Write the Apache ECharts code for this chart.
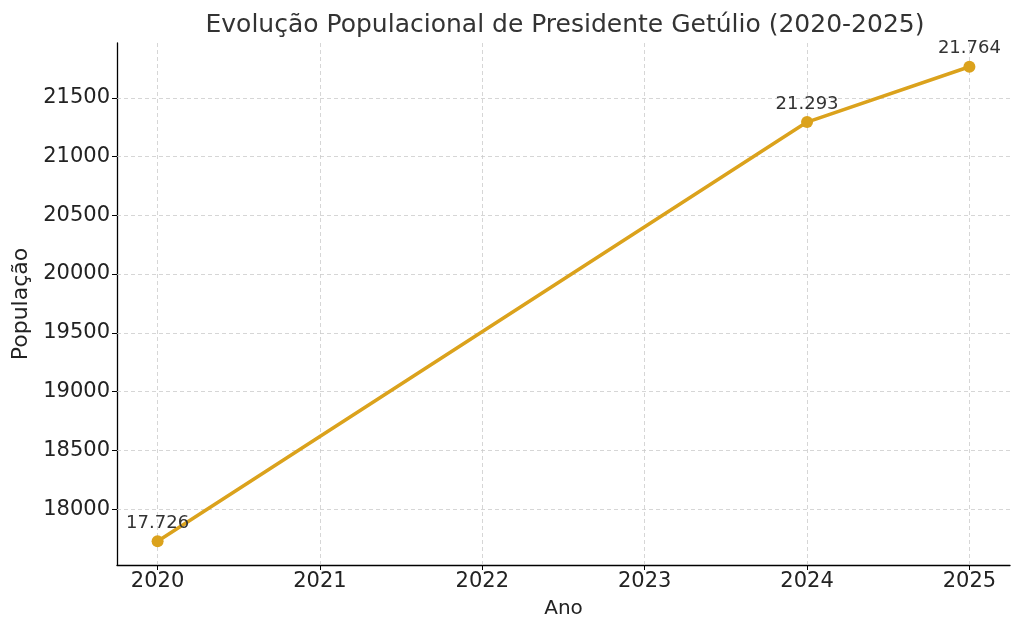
<!DOCTYPE html>
<html>
<head>
<meta charset="utf-8">
<script src="https://cdn.jsdelivr.net/npm/echarts@6/dist/echarts.min.js"></script>
<style>
  html, body { margin: 0; padding: 0; background: #fff; }
  #container { width: 1024px; height: 634px; }
</style>
</head>
<body>
<div id="container"></div>
<script>
var years = [2020, 2024, 2025];
var population = [17726, 21293, 21764];
var pointLabels = ['17.726', '21.293', '21.764'];
var xTicks = [2020, 2021, 2022, 2023, 2024, 2025];
var yTicks = [18000, 18500, 19000, 19500, 20000, 20500, 21000, 21500];

var dom = document.getElementById('container');
var myChart = echarts.init(dom, null, { renderer: 'canvas' });

var font = 'DejaVu Sans';
var gridStyle = { color: '#cccccc', type: [4, 3], width: 0.8 };

var lineData = years.map(function (y, i) { return [y, population[i]]; });

// grid lines drawn as mark lines so they sit exactly on the tick values
var gridLines = [];
xTicks.forEach(function (v) { gridLines.push({ xAxis: v }); });
yTicks.forEach(function (v) { gridLines.push({ yAxis: v }); });

var option = {
  animation: false,
  textStyle: { fontFamily: font },
  title: {
    text: 'Evolução Populacional de Presidente Getúlio (2020-2025)',
    left: 560,
    textAlign: 'center',
    top: 8,
    textStyle: { fontFamily: font, fontSize: 25, fontWeight: 'normal', color: '#333' }
  },
  grid: { left: 117, right: 14, top: 43, bottom: 69 },
  xAxis: {
    type: 'value',
    min: 2019.75,
    max: 2025.25,
    name: 'Ano',
    nameLocation: 'middle',
    nameGap: 34,
    nameTextStyle: { fontFamily: font, fontSize: 20, color: '#222' },
    axisLine: { show: true, onZero: false, lineStyle: { color: '#000', width: 1.3 } },
    axisTick: { show: true, inside: false, length: 5, customValues: xTicks, lineStyle: { color: '#000' } },
    axisLabel: {
      customValues: xTicks,
      fontFamily: font, fontSize: 21, color: '#222', margin: 6,
      formatter: function (v) { return String(v); }
    },
    splitLine: { show: false }
  },
  yAxis: {
    type: 'value',
    min: 17524,
    max: 21966,
    name: 'População',
    nameLocation: 'middle',
    nameGap: 82,
    nameRotate: 90,
    nameTextStyle: { fontFamily: font, fontSize: 22, color: '#222' },
    axisLine: { show: true, onZero: false, lineStyle: { color: '#000', width: 1.3 } },
    axisTick: { show: true, inside: false, length: 5, customValues: yTicks, lineStyle: { color: '#000' } },
    axisLabel: {
      customValues: yTicks,
      fontFamily: font, fontSize: 21, color: '#222', margin: 7,
      formatter: function (v) { return String(v); }
    },
    splitLine: { show: false }
  },
  series: [
    {
      name: 'grid',
      type: 'line',
      data: [],
      silent: true,
      markLine: {
        silent: true,
        symbol: 'none',
        label: { show: false },
        lineStyle: gridStyle,
        emphasis: { disabled: true },
        data: gridLines
      }
    },
    {
      name: 'População',
      type: 'line',
      data: lineData,
      symbol: 'circle',
      symbolSize: 12,
      lineStyle: { color: '#dba21c', width: 3.5 },
      itemStyle: { color: '#dba21c' },
      label: {
        show: true,
        position: 'top',
        distance: 3,
        fontFamily: font,
        fontSize: 18,
        color: '#333',
        formatter: function (p) { return pointLabels[p.dataIndex]; }
      },
      z: 5
    }
  ]
};

myChart.setOption(option);
window.addEventListener('resize', myChart.resize);
</script>
</body>
</html>
